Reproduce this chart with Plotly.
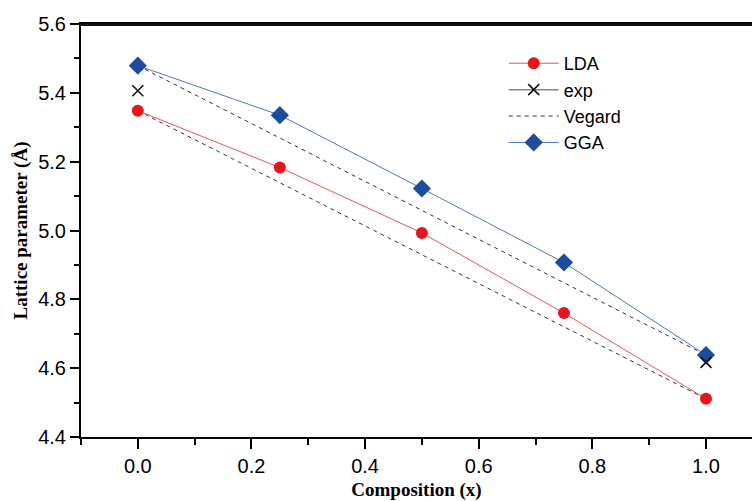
import plotly.graph_objects as go

composition = [0.0, 0.25, 0.5, 0.75, 1.0]
lda = [5.348, 5.183, 4.993, 4.760, 4.511]
gga = [5.479, 5.335, 5.122, 4.907, 4.638]
exp_x = [0.0, 1.0]
exp_y = [5.406, 4.617]
vegard_x = [0.0, 1.0]
vegard_lda = [5.348, 4.511]
vegard_gga = [5.479, 4.638]

x_ticks = [0.0, 0.2, 0.4, 0.6, 0.8, 1.0]
x_tick_text = ["0.0", "0.2", "0.4", "0.6", "0.8", "1.0"]
y_ticks = [4.4, 4.6, 4.8, 5.0, 5.2, 5.4, 5.6]
y_tick_text = ["4.4", "4.6", "4.8", "5.0", "5.2", "5.4", "5.6"]

fig = go.Figure()

dash_line = dict(color="#333333", width=1, dash="4px,4px")
fig.add_trace(go.Scatter(x=vegard_x, y=vegard_lda, mode="lines", line=dash_line,
                         name="Vegard", legendrank=3))
fig.add_trace(go.Scatter(x=vegard_x, y=vegard_gga, mode="lines", line=dash_line,
                         name="Vegard", showlegend=False))

fig.add_trace(go.Scatter(x=composition, y=lda, mode="lines+markers", name="LDA",
                         line=dict(color="#f25050", width=1),
                         marker=dict(symbol="circle", size=12, color="#e8141c"),
                         legendrank=1))
fig.add_trace(go.Scatter(x=composition, y=gga, mode="lines+markers", name="GGA",
                         line=dict(color="#4f74c4", width=1),
                         marker=dict(symbol="diamond", size=14, color="#1d4c9e"),
                         legendrank=4))
fig.add_trace(go.Scatter(x=exp_x, y=exp_y, mode="markers", name="exp", showlegend=False,
                         marker=dict(symbol="x-thin", size=11,
                                     line=dict(color="#111111", width=1.6))))
# legend proxy for exp (line + cross as in the original legend)
fig.add_trace(go.Scatter(x=[None], y=[None], mode="lines+markers", name="exp",
                         line=dict(color="#888888", width=1.5),
                         marker=dict(symbol="x-thin", size=11,
                                     line=dict(color="#111111", width=1.6)),
                         legendrank=2))

fig.update_layout(
    width=752, height=501,
    margin=dict(l=81, r=0, t=24, b=64),
    paper_bgcolor="white", plot_bgcolor="white",
    font=dict(family="Liberation Sans, Arial, sans-serif", size=20, color="black"),
    showlegend=True,
    legend=dict(x=0.630, y=0.949, xanchor="left", yanchor="top",
                bgcolor="rgba(0,0,0,0)", font=dict(size=18),
                itemwidth=50, tracegroupgap=0),
    shapes=[dict(type="line", xref="paper", yref="paper", x0=0, x1=1, y0=0.998, y1=0.998,
                 line=dict(color="#111111", width=2.5), layer="above")],
    xaxis=dict(range=[-0.1, 1.081], tickvals=x_ticks, ticktext=x_tick_text,
               automargin=False,
               showgrid=False, zeroline=False, showline=True, linecolor="black",
               linewidth=2, mirror=True, ticks="outside", ticklen=10, tickwidth=1.5,
               tickcolor="black",
               minor=dict(dtick=0.1, tick0=0, ticks="outside", ticklen=6,
                          tickwidth=1.5, tickcolor="black", showgrid=False),
               title=dict(text="Composition (x)", standoff=8,
                          font=dict(family="Liberation Serif, Times New Roman, serif",
                                    size=19, weight="bold"))),
    yaxis=dict(range=[4.4, 5.6], tickvals=y_ticks, ticktext=y_tick_text,
               automargin=False,
               showgrid=False, zeroline=False, showline=True, linecolor="black",
               linewidth=2, ticks="outside", ticklen=9, tickwidth=1.5,
               tickcolor="black",
               minor=dict(dtick=0.1, tick0=4.4, ticks="outside", ticklen=5,
                          tickwidth=1.5, tickcolor="black", showgrid=False),
               title=dict(text="Lattice parameter (Å)", standoff=6,
                          font=dict(family="Liberation Serif, Times New Roman, serif",
                                    size=19, weight="bold"))),
)

fig.write_html("out.html",
               config={"displayModeBar": False},
               post_script="document.body.style.margin='0';document.body.style.overflow='hidden';")
